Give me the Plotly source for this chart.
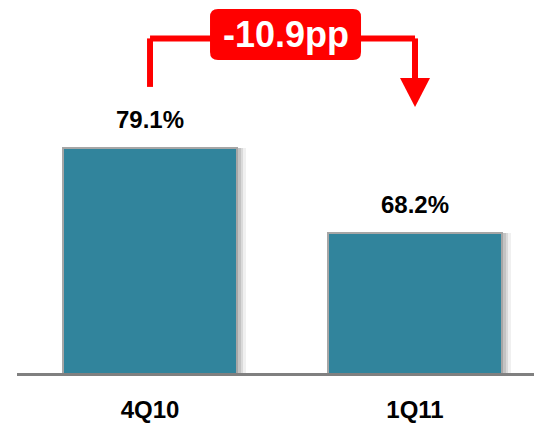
import plotly.graph_objects as go

categories = ["4Q10", "1Q11"]
values = [79.1, 68.2]
value_labels = ["79.1%", "68.2%"]
change_label = "-10.9pp"

BAR_COLOR = "#31849C"
RED = "#FF0000"
FONT = "Liberation Sans, Arial, sans-serif"

x_pos = list(range(len(categories)))
bar_w = 0.66

fig = go.Figure()

# soft drop shadow to the right of each bar
for shift, alpha in [(0.012, 0.10), (0.022, 0.09), (0.032, 0.06)]:
    fig.add_trace(go.Bar(
        x=x_pos, y=values, width=bar_w, offset=-bar_w / 2 + shift,
        marker=dict(color=f"rgba(0,0,0,{alpha})", line=dict(width=0)),
        hoverinfo="skip", showlegend=False,
    ))

fig.add_trace(go.Bar(
    x=x_pos, y=values, width=bar_w, offset=-bar_w / 2,
    marker=dict(color=BAR_COLOR, line=dict(color="#A6A6A6", width=2)),
    showlegend=False,
))

# value labels above bars
for x, v, t in zip(x_pos, values, value_labels):
    fig.add_annotation(x=x, y=v, text=f"<b>{t}</b>", showarrow=False,
                       yanchor="middle", yshift=28,
                       font=dict(family=FONT, size=24, color="black"))

# change bracket with arrow
top_y = 0.897
fig.add_shape(type="line", xref="x", yref="paper", x0=x_pos[0], x1=x_pos[0],
              y0=0.767, y1=top_y, line=dict(color=RED, width=6))
fig.add_shape(type="line", xref="x", yref="paper", x0=x_pos[0], x1=x_pos[1],
              y0=top_y, y1=top_y, line=dict(color=RED, width=6))
fig.add_shape(type="line", xref="x", yref="paper", x0=x_pos[1], x1=x_pos[1],
              y0=top_y, y1=0.785, line=dict(color=RED, width=6))
fig.add_shape(type="path", xref="x", yref="paper", xsizemode="pixel", xanchor=x_pos[1],
              path="M -15,0.791 L 15,0.791 L 0,0.713 Z",
              fillcolor=RED, line=dict(width=0))

# rounded label box
w, h, r, dx = 75.5, 25.5, 8, 3
box = (f"M {-w + r + dx},{-h} L {w - r + dx},{-h} Q {w + dx},{-h} {w + dx},{-h + r} "
       f"L {w + dx},{h - r} Q {w + dx},{h} {w - r + dx},{h} L {-w + r + dx},{h} "
       f"Q {-w + dx},{h} {-w + dx},{h - r} L {-w + dx},{-h + r} Q {-w + dx},{-h} {-w + r + dx},{-h} Z")
mid = (x_pos[0] + x_pos[1]) / 2
fig.add_shape(type="path", xref="x", yref="paper", xsizemode="pixel", ysizemode="pixel",
              xanchor=mid, yanchor=0.9075, path=box, fillcolor=RED, line=dict(width=0))
fig.add_annotation(x=mid, y=0.9075, xref="x", yref="paper", text=f"<b>{change_label}</b>",
                   showarrow=False, xshift=dx, yanchor="middle",
                   font=dict(family=FONT, size=36, color="white"))

fig.update_layout(
    width=534, height=425,
    margin=dict(l=17, r=0, t=0, b=52, autoexpand=False),
    paper_bgcolor="white", plot_bgcolor="white",
    barmode="overlay", bargap=0,
    xaxis=dict(range=[-0.502, 1.449], tickvals=x_pos,
               ticktext=[f"<b>{c}</b>" for c in categories],
               automargin=False,
               showgrid=False, zeroline=False, showline=True,
               linecolor="#808080", linewidth=3, ticks="",
               ticklabelstandoff=13,
               tickfont=dict(family=FONT, size=24, color="black")),
    yaxis=dict(range=[50.25, 98.07], visible=False, showgrid=False, automargin=False),
)

fig.write_html("out.html", config={"displayModeBar": False},
               post_script="document.body.style.margin='0';")
